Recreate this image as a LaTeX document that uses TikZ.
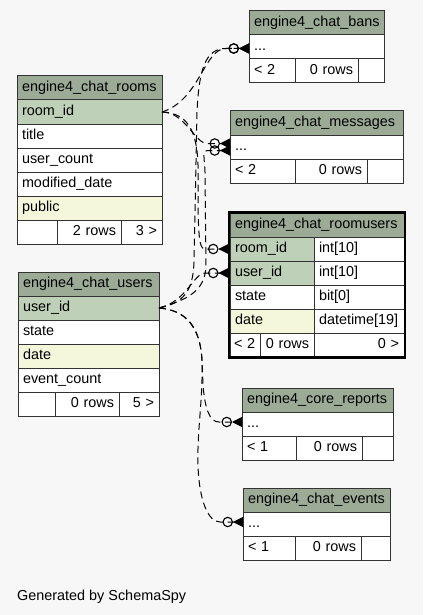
\documentclass[tikz,border=0pt]{standalone}
\usepackage{fontspec}
\setmainfont{Liberation Sans}
\usetikzlibrary{arrows.meta,positioning}

\definecolor{bgcol}{HTML}{F7F7F7}
\definecolor{headcol}{HTML}{9BAB96}
\definecolor{keycol}{HTML}{BED1B8}
\definecolor{idxcol}{HTML}{F4F7DA}
\definecolor{tline}{HTML}{333333}
\newcommand\tabfont{\fontsize{14.4}{16}\selectfont}

\tikzset{
  cell/.style={draw=tline, line width=1pt, fill=white, outer sep=0pt, inner xsep=5pt, inner ysep=0pt,
    minimum height=24pt, text height=10.4pt, text depth=3pt, align=left, font=\tabfont},
  headcell/.style={cell, fill=headcol},
  keycell/.style={cell, fill=keycol},
  idxcell/.style={cell, fill=idxcol},
  numcell/.style={cell, align=right},
  fk/.style={line width=1pt, dash pattern=on 7pt off 4.5pt,
    -{Circle[open,length=10.5pt,width=10.5pt,line width=1.1pt] Triangle[reversed,length=10pt,width=10pt]}}
}

\begin{document}
\begin{tikzpicture}[x=1pt,y=-1pt]
\fill[bgcol] (0,0) rectangle (423,615);

% engine4_chat_rooms
\node[headcell, text width=135pt, anchor=north west] (rooms_head) at (17,76) {engine4\_chat\_rooms};
\node[keycell, text width=135pt] (rooms_roomid) [below=0pt of rooms_head] {room\_id};
\node[cell, text width=135pt] (rooms_title) [below=0pt of rooms_roomid] {title};
\node[cell, text width=135pt] (rooms_count) [below=0pt of rooms_title] {user\_count};
\node[cell, text width=135pt] (rooms_mod) [below=0pt of rooms_count] {modified\_date};
\node[idxcell, text width=135pt] (rooms_public) [below=0pt of rooms_mod] {public};
\node[cell, text width=30pt, anchor=north west] (rooms_f1) at (rooms_public.south west) {};
\node[numcell, text width=54pt] (rooms_f2) [right=0pt of rooms_f1] {2 rows};
\node[numcell, text width=31pt] (rooms_f3) [right=0pt of rooms_f2] {3 >};

% engine4_chat_users
\node[headcell, text width=131pt, anchor=north west] (users_head) at (18,272) {engine4\_chat\_users};
\node[keycell, text width=131pt] (users_userid) [below=0pt of users_head] {user\_id};
\node[cell, text width=131pt] (users_state) [below=0pt of users_userid] {state};
\node[idxcell, text width=131pt] (users_date) [below=0pt of users_state] {date};
\node[cell, text width=131pt] (users_count) [below=0pt of users_date] {event\_count};
\node[cell, text width=27pt, anchor=north west] (users_f1) at (users_count.south west) {};
\node[numcell, text width=54pt] (users_f2) [right=0pt of users_f1] {0 rows};
\node[numcell, text width=30pt] (users_f3) [right=0pt of users_f2] {5 >};

% engine4_chat_bans
\node[headcell, text width=125pt, anchor=north west] (bans_head) at (249,10.5) {engine4\_chat\_bans};
\node[cell, text width=125pt] (bans_row) [below=0pt of bans_head] {...};
\node[cell, text width=36pt, anchor=north west] (bans_f1) at (bans_row.south west) {< 2};
\node[numcell, text width=53pt] (bans_f2) [right=0pt of bans_f1] {0 rows};
\node[numcell, text width=16pt] (bans_f3) [right=0pt of bans_f2] {};

% engine4_chat_messages
\node[headcell, text width=163pt, anchor=north west] (msg_head) at (230,111) {engine4\_chat\_messages};
\node[cell, text width=163pt] (msg_row) [below=0pt of msg_head] {...};
\node[cell, text width=55pt, anchor=north west] (msg_f1) at (msg_row.south west) {< 2};
\node[numcell, text width=62pt] (msg_f2) [right=0pt of msg_f1] {0 rows};
\node[numcell, text width=26pt] (msg_f3) [right=0pt of msg_f2] {};

% engine4_chat_roomusers
\node[headcell, text width=164pt, anchor=north west] (ru_head) at (230,213) {engine4\_chat\_roomusers};
\node[keycell, text width=74pt, anchor=north west] (ru_roomid) at (ru_head.south west) {room\_id};
\node[cell, text width=80pt] (ru_roomid_t) [right=0pt of ru_roomid] {int[10]};
\node[keycell, text width=74pt] (ru_userid) [below=0pt of ru_roomid] {user\_id};
\node[cell, text width=80pt] (ru_userid_t) [right=0pt of ru_userid] {int[10]};
\node[cell, text width=74pt] (ru_state) [below=0pt of ru_userid] {state};
\node[cell, text width=80pt] (ru_state_t) [right=0pt of ru_state] {bit[0]};
\node[idxcell, text width=74pt] (ru_date) [below=0pt of ru_state] {date};
\node[cell, text width=80pt] (ru_date_t) [right=0pt of ru_date] {datetime[19]};
\node[cell, inner xsep=4pt, text width=22pt, anchor=north west] (ru_f1) at (ru_date.south west) {< 2};
\node[numcell, text width=44pt] (ru_f2) [right=0pt of ru_f1] {0 rows};
\node[numcell, text width=80pt] (ru_f3) [right=0pt of ru_f2] {0 >};
\draw[line width=2.5pt] ([shift={(-1pt,0.5pt)}]ru_head.north west) rectangle ([shift={(1pt,-0.5pt)}]ru_f3.south east);

% engine4_core_reports
\node[headcell, text width=141pt, anchor=north west] (rep_head) at (242,388) {engine4\_core\_reports};
\node[cell, text width=141pt] (rep_row) [below=0pt of rep_head] {...};
\node[cell, text width=44pt, anchor=north west] (rep_f1) at (rep_row.south west) {< 1};
\node[numcell, text width=56pt] (rep_f2) [right=0pt of rep_f1] {0 rows};
\node[numcell, text width=21pt] (rep_f3) [right=0pt of rep_f2] {};

% engine4_chat_events
\node[headcell, text width=137pt, anchor=north west] (ev_head) at (243,488) {engine4\_chat\_events};
\node[cell, text width=137pt] (ev_row) [below=0pt of ev_head] {...};
\node[cell, text width=42pt, anchor=north west] (ev_f1) at (ev_row.south west) {< 1};
\node[numcell, text width=56pt] (ev_f2) [right=0pt of ev_f1] {0 rows};
\node[numcell, text width=19pt] (ev_f3) [right=0pt of ev_f2] {};

% relationships from room_id
\draw[fk] (rooms_roomid.east) .. controls (200,100) and (204,48.5) .. (226,48.5) -- ([yshift=-2pt]bans_row.west);
\draw[fk] (rooms_roomid.east) .. controls (185,112) and (195,143.5) .. (207,143.5) -- ([yshift=3.5pt]msg_row.west);
\draw[fk] (rooms_roomid.east) .. controls (187,113) and (197,130) .. (198,165) -- (198,212)
  .. controls (199,235) and (199,249) .. (205,249) -- ([xshift=-1.5pt]ru_roomid.west);

% relationships from user_id
\draw[fk] (users_userid.east) .. controls (183,303) and (193,292) .. (194,262) -- (197,112)
  .. controls (199,70) and (205,48.5) .. (226,48.5) -- ([yshift=-2pt]bans_row.west);
\draw[fk] (users_userid.east) .. controls (186,300) and (205,292) .. (206,266) -- (205,172)
  .. controls (204.5,158) and (202,150.5) .. (207,150.5) -- ([yshift=-3.5pt]msg_row.west);
\draw[fk] (users_userid.east) .. controls (186,302) and (194,273) .. (205,273) -- ([xshift=-1.5pt]ru_userid.west);
\draw[fk] (users_userid.east) .. controls (185,310) and (200,325) .. (202,360) -- (203,385)
  .. controls (205,410) and (210,422) .. (219,422) -- ([yshift=2pt]rep_row.west);
\draw[fk] (users_userid.east) .. controls (186,310) and (201,328) .. (202,362)
  .. controls (203,400) and (197,430) .. (198,465)
  .. controls (199,500) and (208,522) .. (220,522) -- ([yshift=2pt]ev_row.west);

\node[font=\tabfont, anchor=base west, inner sep=0pt] (credit) at (17,600.5) {Generated by SchemaSpy};
\end{tikzpicture}
\end{document}
